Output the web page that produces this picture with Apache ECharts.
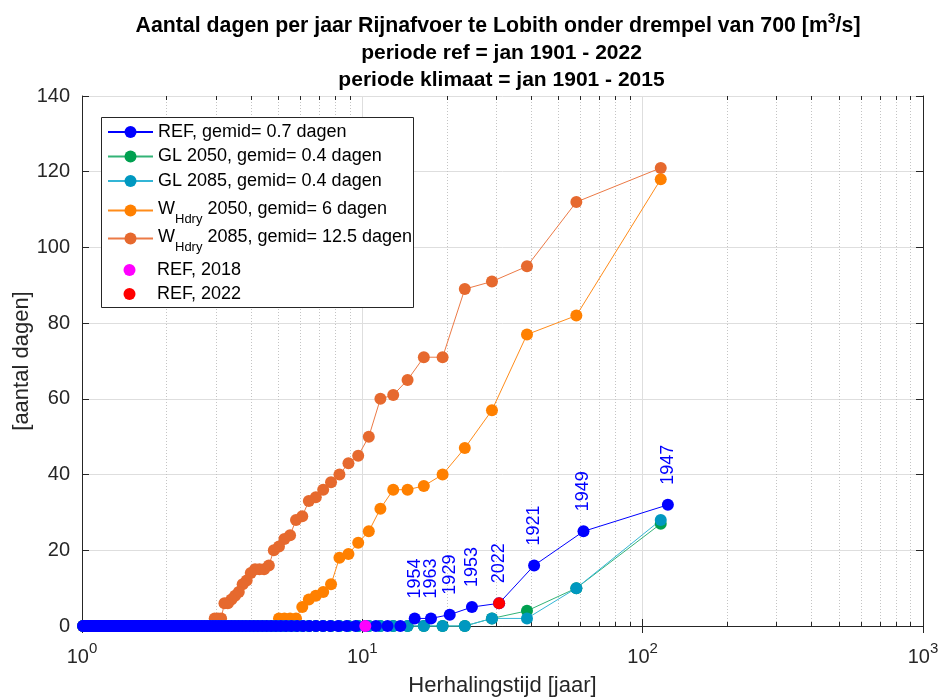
<!DOCTYPE html>
<html>
<head>
<meta charset="utf-8">
<script src="https://cdn.jsdelivr.net/npm/echarts@6/dist/echarts.min.js"></script>
<style>html,body{margin:0;padding:0;background:#fff}#c{width:945px;height:698px}</style>
</head>
<body>
<div id="c"></div>
<script>
// ---- data (sorted descending; return period from rank) ----
const nRef = 122;   // jan 1901 - 2022
const nClim = 115;  // jan 1901 - 2015

const refValues = [
  32, 25, 16, 6, 5, 3, 2, 2,
  0,0,0,0,0,0,0,0,0,0, 0,0,0,0,0,0,0,0,0,0,
  0,0,0,0,0,0,0,0,0,0, 0,0,0,0,0,0,0,0,0,0,
  0,0,0,0,0,0,0,0,0,0, 0,0,0,0,0,0,0,0,0,0,
  0,0,0,0,0,0,0,0,0,0, 0,0,0,0,0,0,0,0,0,0,
  0,0,0,0,0,0,0,0,0,0, 0,0,0,0,0,0,0,0,0,0,
  0,0,0,0,0,0,0,0,0,0,
  0,0,0,0
];
const refYears = ['1947', '1949', '1921', '2022', '1953', '1929', '1963', '1954'];
const ref2018Rank = 12;
const ref2022Rank = 4;

const gl2050Values = [
  27, 10, 4, 2,
  0,0,0,0,0,0,0,0,0,0, 0,0,0,0,0,0,0,0,0,0,
  0,0,0,0,0,0,0,0,0,0, 0,0,0,0,0,0,0,0,0,0,
  0,0,0,0,0,0,0,0,0,0, 0,0,0,0,0,0,0,0,0,0,
  0,0,0,0,0,0,0,0,0,0, 0,0,0,0,0,0,0,0,0,0,
  0,0,0,0,0,0,0,0,0,0, 0,0,0,0,0,0,0,0,0,0,
  0,0,0,0,0,0,0,0,0,0,
  0
];
const gl2085Values = [
  28, 10, 2, 2,
  0,0,0,0,0,0,0,0,0,0, 0,0,0,0,0,0,0,0,0,0,
  0,0,0,0,0,0,0,0,0,0, 0,0,0,0,0,0,0,0,0,0,
  0,0,0,0,0,0,0,0,0,0, 0,0,0,0,0,0,0,0,0,0,
  0,0,0,0,0,0,0,0,0,0, 0,0,0,0,0,0,0,0,0,0,
  0,0,0,0,0,0,0,0,0,0, 0,0,0,0,0,0,0,0,0,0,
  0,0,0,0,0,0,0,0,0,0,
  0
];
const w2050Values = [
  118, 82, 77, 57, 47, 40, 37, 36, 36, 31,
  25, 22, 19, 18, 11, 9, 8, 7, 5, 2,
  2, 2, 2,
  0,0,0,0,0,0,0,0,0,0, 0,0,0,0,0,0,0,0,0,0,
  0,0,0,0,0,0,0,0,0,0, 0,0,0,0,0,0,0,0,0,0,
  0,0,0,0,0,0,0,0,0,0, 0,0,0,0,0,0,0,0,0,0,
  0,0,0,0,0,0,0,0,0,0, 0,0,0,0,0,0,0,0,0,0,
  0,0,0,0,0,0,0,0,0,0,
  0,0
];
const w2085Values = [
  121, 112, 95, 91, 89, 71, 71, 65, 61, 60,
  50, 45, 43, 40, 38, 36, 34, 33, 29, 28,
  24, 23, 21, 20, 16, 15, 15, 15, 14, 12,
  11, 9, 8, 7, 6, 6, 2, 2, 2,
  0,0,0,0,0,0,0,0,0,0, 0,0,0,0,0,0,0,0,0,0,
  0,0,0,0,0,0,0,0,0,0, 0,0,0,0,0,0,0,0,0,0,
  0,0,0,0,0,0,0,0,0,0, 0,0,0,0,0,0,0,0,0,0,
  0,0,0,0,0,0,0,0,0,0,
  0,0,0,0,0,0
];

const seriesNames = [
  'REF, gemid= 0.7 dagen',
  'GL 2050, gemid= 0.4 dagen',
  'GL 2085, gemid= 0.4 dagen',
  'WHdry 2050, gemid= 6 dagen',
  'WHdry 2085, gemid= 12.5 dagen',
  'REF, 2018',
  'REF, 2022'
];
const xMajorTicks = [1, 10, 100, 1000];
const xMinorTicks = [2,3,4,5,6,7,8,9, 20,30,40,50,60,70,80,90, 200,300,400,500,600,700,800,900];
const yTicks = [0, 20, 40, 60, 80, 100, 120, 140];

// ---- chart ----
const FONT = '"Liberation Sans", Arial, Helvetica, sans-serif';
const AX = '#262626';
const yMin = yTicks[0], yMax = yTicks[yTicks.length - 1];
const xMin = xMajorTicks[0], xMax = xMajorTicks[xMajorTicks.length - 1];

function toPoints(values, n) {
  return values.map((v, i) => [(n + 1) / (i + 1), v]);
}

function lineSeries(name, values, n, color, lineColor) {
  return {
    type: 'line', name: name, data: toPoints(values, n),
    symbol: 'circle', symbolSize: 12, clip: false, silent: true,
    itemStyle: { color: color },
    lineStyle: { color: lineColor || color, width: 1 },
    emphasis: { disabled: true }, animation: false
  };
}

const refSeries = lineSeries(seriesNames[0], refValues, nRef, '#0000ff');
refSeries.data = refSeries.data.map((p, i) => {
  if (i < refYears.length) {
    return {
      value: p,
      label: {
        show: true, formatter: refYears[i], rotate: 90, position: 'top', distance: 14,
        align: 'left', verticalAlign: 'middle', color: '#0000ff', fontSize: 18, fontFamily: FONT
      }
    };
  }
  return p;
});

function singlePoint(name, rank, color) {
  return {
    type: 'line', name: name,
    data: [[(nRef + 1) / rank, refValues[rank - 1]]],
    symbol: 'circle', symbolSize: 12, clip: false, silent: true,
    itemStyle: { color: color }, lineStyle: { opacity: 0, width: 0 },
    emphasis: { disabled: true }, animation: false
  };
}

const minorGrid = {
  type: 'custom', silent: true, z: 1, animation: false,
  data: xMinorTicks.map(v => [v, yMin]),
  renderItem: function (params, api) {
    const v = api.value(0);
    const top = api.coord([v, yMax]);
    const bot = api.coord([v, yMin]);
    const x = Math.round(top[0]) + 0.5;
    return {
      type: 'group',
      children: [
        { type: 'line', shape: { x1: x, y1: top[1], x2: x, y2: bot[1] },
          style: { stroke: '#c4c4c4', lineWidth: 1, lineDash: [1, 2] } },
        { type: 'line', shape: { x1: x, y1: bot[1], x2: x, y2: bot[1] - 4 },
          style: { stroke: AX, lineWidth: 1 } },
        { type: 'line', shape: { x1: x, y1: top[1], x2: x, y2: top[1] + 4 },
          style: { stroke: AX, lineWidth: 1 } }
      ]
    };
  }
};

const legendLabels = {};
legendLabels[seriesNames[0]] = seriesNames[0];
legendLabels[seriesNames[1]] = seriesNames[1];
legendLabels[seriesNames[2]] = seriesNames[2];
legendLabels[seriesNames[3]] = '{a|W}{s|Hdry}{a| 2050, gemid= 6 dagen}';
legendLabels[seriesNames[4]] = '{a|W}{s|Hdry}{a| 2085, gemid= 12.5 dagen}';
legendLabels[seriesNames[5]] = seriesNames[5];
legendLabels[seriesNames[6]] = seriesNames[6];

function legendPart(names, top, gap) {
  return {
    data: names, orient: 'vertical', left: 107, top: top,
    itemWidth: 45, itemHeight: 15, itemGap: gap, selectedMode: false,
    padding: 0, z: 5,
    textStyle: {
      fontFamily: FONT, fontSize: 18, color: '#000', lineHeight: 20,
      rich: {
        a: { fontFamily: FONT, fontSize: 18, color: '#000', lineHeight: 20, verticalAlign: 'top' },
        s: { fontFamily: FONT, fontSize: 13, color: '#000', lineHeight: 14, padding: [12, 0, 0, 0], verticalAlign: 'top' }
      }
    },
    formatter: name => legendLabels[name]
  };
}

const titleStyle = {
  fontFamily: FONT, fontWeight: 'bold', color: '#000',
  rich: {
    s: { fontFamily: FONT, fontSize: 14, fontWeight: 'bold', color: '#000', lineHeight: 14,
         padding: [0, 0, 12, 0], verticalAlign: 'top' }
  }
};

const chart = echarts.init(document.getElementById('c'), null, { renderer: 'canvas' });
chart.setOption({
  animation: false,
  backgroundColor: '#fff',
  textStyle: { fontFamily: FONT },
  title: [{
    text: 'Aantal dagen per jaar Rijnafvoer te Lobith onder drempel van 700 [m{s|3}/s]',
    left: 493, textAlign: 'center', top: 7,
    textStyle: Object.assign({}, titleStyle, { fontSize: 21.3, lineHeight: 28 })
  }, {
    text: 'periode ref = jan 1901 - 2022\nperiode klimaat = jan 1901 - 2015',
    left: 496.5, textAlign: 'center', top: 35,
    textStyle: Object.assign({}, titleStyle, { fontSize: 21, lineHeight: 27 })
  }],
  graphic: [{
    type: 'rect', left: 101, top: 117, z: 3, silent: true,
    shape: { width: 312, height: 190 },
    style: { fill: '#fff', stroke: AX, lineWidth: 1 }
  }],
  grid: { left: 82, right: 22, top: 96, bottom: 72, containLabel: false, outerBoundsMode: 'none' },
  legend: [
    legendPart(seriesNames.slice(0, 3), 122, 4.5),
    legendPart([seriesNames[3]], 200.5, 4),
    legendPart([seriesNames[4]], 228.5, 4),
    legendPart(seriesNames.slice(5, 7), 260, 4)
  ],
  xAxis: [{
    type: 'log', logBase: 10, min: xMin, max: xMax, position: 'bottom', splitNumber: 3,
    axisLine: { show: true, lineStyle: { color: AX, width: 1 } },
    axisTick: { show: true, inside: true, length: 7, lineStyle: { color: AX } },
    axisLabel: {
      margin: 19, color: AX,
      formatter: v => '{b|10}{s|' + Math.round(Math.log10(v)) + '}',
      rich: {
        b: { fontFamily: FONT, fontSize: 20, color: AX, lineHeight: 22, verticalAlign: 'bottom' },
        s: { fontFamily: FONT, fontSize: 15, color: AX, lineHeight: 15, padding: [0, 0, 11, 0], verticalAlign: 'bottom' }
      }
    },
    splitLine: { show: true, lineStyle: { color: '#dedede', width: 1 } },
    name: 'Herhalingstijd [jaar]', nameLocation: 'middle', nameGap: 49,
    nameTextStyle: { fontFamily: FONT, fontSize: 22, color: AX }
  }, {
    type: 'log', logBase: 10, min: xMin, max: xMax, position: 'top', splitNumber: 3,
    axisLine: { show: true, lineStyle: { color: AX, width: 1 } },
    axisTick: { show: true, inside: true, length: 7, lineStyle: { color: AX } },
    axisLabel: { show: false }, splitLine: { show: false }
  }],
  yAxis: [{
    type: 'value', min: yMin, max: yMax, interval: 20, position: 'left',
    axisLine: { show: true, lineStyle: { color: AX, width: 1 } },
    axisTick: { show: true, inside: true, length: 7, lineStyle: { color: AX } },
    axisLabel: { margin: 12, fontFamily: FONT, fontSize: 20, color: AX },
    splitLine: { show: true, lineStyle: { color: '#dedede', width: 1 } },
    name: '[aantal dagen]', nameLocation: 'middle', nameGap: 49, nameMoveOverlap: false,
    nameTextStyle: { fontFamily: FONT, fontSize: 22, color: AX }
  }, {
    type: 'value', min: yMin, max: yMax, interval: 20, position: 'right',
    axisLine: { show: true, lineStyle: { color: AX, width: 1 } },
    axisTick: { show: true, inside: true, length: 7, lineStyle: { color: AX } },
    axisLabel: { show: false }, splitLine: { show: false }
  }],
  series: [
    minorGrid,
    lineSeries(seriesNames[4], w2085Values, nClim, '#e6692e', '#ec7a46'),
    lineSeries(seriesNames[3], w2050Values, nClim, '#ff8000', '#ff8c1a'),
    lineSeries(seriesNames[1], gl2050Values, nClim, '#00a050', '#33b377'),
    lineSeries(seriesNames[2], gl2085Values, nClim, '#0098c0', '#33b5d6'),
    refSeries,
    singlePoint(seriesNames[5], ref2018Rank, '#ff00ff'),
    singlePoint(seriesNames[6], ref2022Rank, '#ff0000')
  ]
});
</script>
</body>
</html>
